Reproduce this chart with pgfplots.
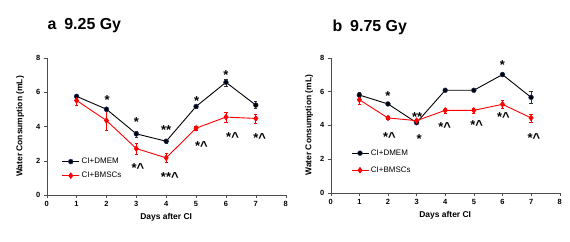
\documentclass[border=0pt]{standalone}
\usepackage{fontspec}
\setmainfont{Liberation Sans}
\usepackage{pgfplots}
\pgfplotsset{compat=1.18}
\definecolor{navy}{RGB}{30,50,110}
\pgfplotsset{
  panel/.style={
    scale only axis, axis lines=left, axis line style={-, black!70},
    xmin=0, xmax=8, ymin=0, ymax=8,
    xtick={0,1,...,8}, ytick={0,2,4,6,8},
    tick label style={font=\fontsize{7.5}{8}\selectfont\bfseries},
    /pgf/number format/assume math mode=true,
    xlabel={Days after CI}, ylabel={Water Consumption (mL)},
    label style={font=\fontsize{8.5}{10}\selectfont\bfseries},
    tick style={black!70}, tick align=outside, major tick length=3bp,
    clip=false,
    legend style={draw=none, fill=none, font=\fontsize{8}{9}\selectfont, row sep=3bp},
    legend cell align=left,
  },
  dmem/.style={black, line width=0.9pt, mark=*, mark size=2.4bp,
    mark options={fill=black, draw=navy, line width=0.5pt},
    error bars/.cd, y dir=both, y explicit,
    error bar style={black!80, line width=0.7pt},
    error mark options={rotate=90, mark size=1.6bp, black!80}},
  bmsc/.style={red, line width=0.9pt, mark=diamond*, mark size=2.6bp,
    mark options={fill=red, draw=red},
    error bars/.cd, y dir=both, y explicit,
    error bar style={red, line width=0.7pt},
    error mark options={rotate=90, mark size=1.6bp, red}},
}
\newcommand{\ann}{\fontsize{13}{13}\selectfont\bfseries}
\begin{document}
\begin{tikzpicture}
\path (0bp,0bp) rectangle (570bp,242bp);
\node[anchor=west, font=\fontsize{16}{18}\selectfont\bfseries] at (44bp,216bp) {a\hspace{0.5em}9.25 Gy};
\node[anchor=west, font=\fontsize{16}{18}\selectfont\bfseries] at (329bp,215bp) {b\hspace{0.5em}9.75 Gy};
\begin{axis}[panel, at={(46.7bp,47bp)}, anchor=south west, width=239bp, height=137bp,
  ylabel shift=5bp,
  legend style={at={(axis cs:0.4,2.4)}, anchor=north west}]
\addplot+[dmem] coordinates {(1,5.76) +- (0,0.12) (2,5.01) +- (0,0.12) (3,3.57) +- (0,0.18) (4,3.14) +- (0,0.12) (5,5.17) +- (0,0.1) (6,6.58) +- (0,0.2) (7,5.25) +- (0,0.2)};
\addlegendentry{CI+DMEM}
\addplot+[bmsc] coordinates {(1,5.52) +- (0,0.3) (2,4.35) +- (0,0.55) (3,2.71) +- (0,0.3) (4,2.17) +- (0,0.25) (5,3.90) +- (0,0.12) (6,4.55) +- (0,0.3) (7,4.47) +- (0,0.25)};
\addlegendentry{CI+BMSCs}
\node[font=\ann] at (axis cs:2.02,5.55) {*};
\node[font=\ann] at (axis cs:3,4.25) {*};
\node[font=\ann] at (axis cs:4,3.8) {**};
\node[font=\ann] at (axis cs:5.02,5.5) {*};
\node[font=\ann] at (axis cs:6,7.0) {*};
\node[font=\ann] at (axis cs:3.05,1.6) {*\textasciicircum};
\node[font=\ann] at (axis cs:4.12,1.07) {**\textasciicircum};
\node[font=\ann] at (axis cs:5.18,2.83) {*\textasciicircum};
\node[font=\ann] at (axis cs:6.22,3.4) {*\textasciicircum};
\node[font=\ann] at (axis cs:7.13,3.3) {*\textasciicircum};
\end{axis}
\begin{axis}[panel, at={(330.7bp,49.3bp)}, anchor=south west, width=229bp, height=135bp,
  legend style={at={(axis cs:0.6,2.8)}, anchor=north west, row sep=6bp}]
\addplot+[dmem] coordinates {(1,5.79) +- (0,0.15) (2,5.26) +- (0,0.1) (3,4.15) +- (0,0.1) (4,6.07) +- (0,0.08) (5,6.07) +- (0,0.08) (6,7.0) +- (0,0.12) (7,5.65) +- (0,0.35)};
\addlegendentry{CI+DMEM}
\addplot+[bmsc] coordinates {(1,5.51) +- (0,0.25) (2,4.43) +- (0,0.1) (3,4.27) +- (0,0.1) (4,4.88) +- (0,0.15) (5,4.88) +- (0,0.15) (6,5.24) +- (0,0.25) (7,4.43) +- (0,0.25)};
\addlegendentry{CI+BMSCs}
\node[font=\ann] at (axis cs:2,5.75) {*};
\node[font=\ann] at (axis cs:2.05,3.32) {*\textasciicircum};
\node[font=\ann] at (axis cs:3.02,4.5) {**};
\node[font=\ann] at (axis cs:3.09,3.18) {*};
\node[font=\ann] at (axis cs:3.98,3.87) {*\textasciicircum};
\node[font=\ann] at (axis cs:5.1,4.0) {*\textasciicircum};
\node[font=\ann] at (axis cs:6,7.55) {*};
\node[font=\ann] at (axis cs:6.03,4.5) {*\textasciicircum};
\node[font=\ann] at (axis cs:7.1,3.25) {*\textasciicircum};
\end{axis}
\end{tikzpicture}
\end{document}
